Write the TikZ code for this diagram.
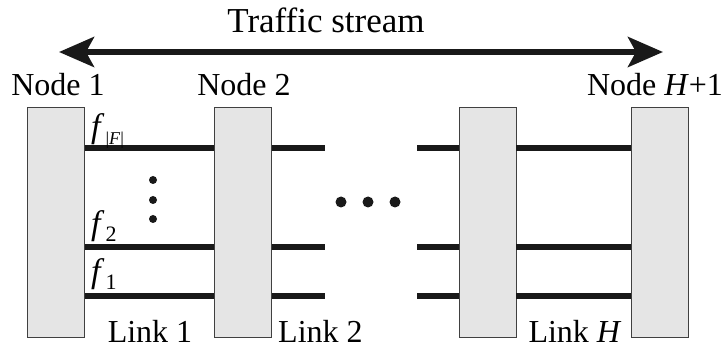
\documentclass[tikz,border=0pt]{standalone}
\usepackage{fontspec}
\setmainfont{Liberation Serif}
\usetikzlibrary{arrows.meta}
\newcommand\fwithsub[2]{\textit{f}\kern1pt\raisebox{-7pt}{\fontsize{#1}{#1}\selectfont #2}}
\tikzset{
  nodebox/.style={draw=black!75, line width=0.9pt, fill=black!10, minimum width=57pt, minimum height=230pt, inner sep=0pt},
  linkline/.style={line width=6pt, draw=black!90},
  lbl/.style={font=\fontsize{32}{38}\selectfont, inner sep=0pt, anchor=base},
  flbl/.style={font=\fontsize{34}{40}\selectfont, inner sep=0pt, anchor=base west},
  dotfill/.style={fill=black!90},
}
\begin{document}
\begin{tikzpicture}[x=1pt,y=-1pt]
\useasboundingbox (0,0) rectangle (724,350);
% traffic stream arrow
\coordinate (tl) at (59,52);
\coordinate (tr) at (663,52);
\draw[line width=6pt, draw=black!90, {Stealth[length=35pt,width=30pt,inset=8pt]}-{Stealth[length=35pt,width=30pt,inset=8pt]}] (tl) -- (tr);
\node[lbl, font=\fontsize{35}{40}\selectfont] (ts) at (326,33) {Traffic stream};
% node boxes
\node[nodebox] (b1) at (56,222) {};
\node[nodebox] (b2) at (243,222) {};
\node[nodebox] (b3) at (487.5,222) {};
\node[nodebox] (b4) at (660,222) {};
% labels
\node[lbl] (n1) at (58,96) {Node 1};
\node[lbl] (n2) at (244,96) {Node 2};
\node[lbl] (n3) at (655,96) {Node \textit{H}+1};
\node[lbl] (l1) at (150,342) {Link 1};
\node[lbl, anchor=base west] (l2) at (278,342) {Link 2};
\node[lbl] (l3) at (575,342) {Link \textit{H}};
% flow lines
\foreach \i/\y in {1/148,2/247,3/296}{
  \coordinate (r\i) at (0,\y);
  \coordinate (ea\i) at (325,\y);
  \coordinate (eb\i) at (417,\y);
  \draw[linkline] (b1.east |- r\i) -- (b2.west |- r\i);
  \draw[linkline] (b2.east |- r\i) -- (ea\i);
  \draw[linkline] (eb\i) -- (b3.west |- r\i);
  \draw[linkline] (b3.east |- r\i) -- (b4.west |- r\i);
}
% flow labels
\node[flbl] (fF) at (91,138) {\fwithsub{18}{|\textit{F}|}};
\node[flbl] (f2) at (91,235) {\fwithsub{22}{2}};
\node[flbl] (f1) at (91,283) {\fwithsub{22}{1}};
% dots
\fill[dotfill] (153,180) circle (4);
\fill[dotfill] (153,200) circle (4);
\fill[dotfill] (153,219) circle (4);
\fill[dotfill] (341,202) circle (5.5);
\fill[dotfill] (368,202) circle (5.5);
\fill[dotfill] (395,202) circle (5.5);
\end{tikzpicture}
\end{document}
